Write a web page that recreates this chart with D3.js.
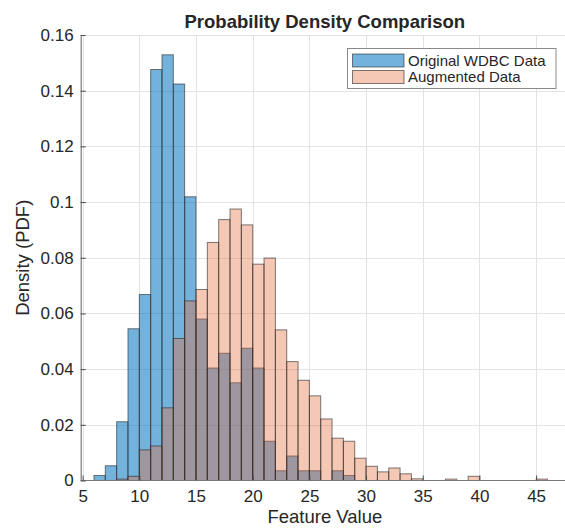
<!DOCTYPE html>
<html>
<head>
<meta charset="utf-8">
<script src="https://cdn.jsdelivr.net/npm/d3@7"></script>
<style>
  html, body { margin: 0; padding: 0; background: #ffffff; }
  svg { display: block; font-family: "Liberation Sans", Arial, Helvetica, sans-serif; }
</style>
</head>
<body>
<svg id="chart" width="565" height="528"></svg>
<script>
// ---- data ----
const binWidth = 1;
const originalBinStarts = [6,7,8,9,10,11,12,13,14,15,16,17,18,19,20,21,22,23,24,25,26,27,28];
const originalDensity = [0.0018,0.0053,0.0211,0.0545,0.0668,0.1476,0.1529,0.1424,0.1019,0.0580,0.0404,0.0457,0.0351,0.0475,0.0404,0.0141,0.0035,0.0088,0.0035,0.0035,0,0.0035,0.0018];
const augmentedBinStarts = [6,7,8,9,10,11,12,13,14,15,16,17,18,19,20,21,22,23,24,25,26,27,28,29,30,31,32,33,34,35,36,37,38,39,40,41,42,43,44,45];
const augmentedDensity = [0,0,0.0005,0.0015,0.0110,0.0124,0.0261,0.0510,0.0645,0.0686,0.0855,0.0937,0.0975,0.0918,0.0777,0.0799,0.0541,0.0427,0.0360,0.0304,0.0221,0.0152,0.0141,0.0080,0.0051,0.0031,0.0045,0.0024,0.0006,0,0,0.0005,0,0.0015,0,0,0,0,0,0.0005];
const xTicks = [5,10,15,20,25,30,35,40,45];
const yTicks = [0,0.02,0.04,0.06,0.08,0.1,0.12,0.14,0.16];
const seriesNames = ["Original WDBC Data", "Augmented Data"];
const titleText = "Probability Density Comparison";
const xLabelText = "Feature Value";
const yLabelText = "Density (PDF)";

// ---- layout ----
const svg = d3.select("#chart");
const pLeft = 80.7, pRight = 569, pTop = 35, pBottom = 480.5;
const x = d3.scaleLinear().domain([4.83, 47.9]).range([pLeft, pRight]);
const y = d3.scaleLinear().domain([0, 0.16]).range([pBottom, pTop]);
const textColor = "#262626";
const blue = { fill: "rgb(0,114,189)", op: 0.55 };
const orange = { fill: "rgb(229,108,60)", op: 0.38 };

// grid
const grid = svg.append("g");
grid.selectAll("line.vx").data(xTicks).enter().append("line")
  .attr("x1", d => Math.round(x(d)) + 0.5).attr("x2", d => Math.round(x(d)) + 0.5)
  .attr("y1", pTop).attr("y2", pBottom)
  .attr("stroke", "#e3e3e3").attr("stroke-width", 1);
grid.selectAll("line.hy").data(yTicks.filter(d => d > 0)).enter().append("line")
  .attr("x1", pLeft).attr("x2", 565)
  .attr("y1", d => Math.round(y(d)) + 0.5).attr("y2", d => Math.round(y(d)) + 0.5)
  .attr("stroke", "#e3e3e3").attr("stroke-width", 1);

// bars
function drawBars(starts, vals, style) {
  const data = starts.map((s, i) => ({ s, v: vals[i] })).filter(d => d.v > 0);
  svg.append("g").selectAll("rect").data(data).enter().append("rect")
    .attr("x", d => x(d.s))
    .attr("width", d => x(d.s + binWidth) - x(d.s))
    .attr("y", d => y(d.v))
    .attr("height", d => y(0) - y(d.v))
    .attr("fill", style.fill).attr("fill-opacity", style.op)
    .attr("stroke", "#262626").attr("stroke-opacity", 0.6).attr("stroke-width", 1);
}
drawBars(originalBinStarts, originalDensity, blue);
drawBars(augmentedBinStarts, augmentedDensity, orange);

// axes
const xAxis = d3.axisBottom(x).tickValues(xTicks).tickFormat(d3.format("d"))
  .tickSizeInner(-5).tickSizeOuter(0).tickPadding(9.5);
const gx = svg.append("g").attr("transform", `translate(0,${pBottom})`).call(xAxis);
const yAxis = d3.axisLeft(y).tickValues(yTicks).tickFormat(d => d === 0 ? "0" : String(+d.toFixed(2)))
  .tickSizeInner(-5).tickSizeOuter(0).tickPadding(7);
const gy = svg.append("g").attr("transform", `translate(${pLeft},0)`).call(yAxis);
[gx, gy].forEach(g => {
  g.select(".domain").attr("stroke", "#7a7a7a").attr("stroke-width", 1.2);
  g.selectAll(".tick line").attr("stroke", "#4a4a4a");
  g.selectAll(".tick text").attr("fill", textColor).style("font-size", "17px")
    .style("font-family", "'Liberation Sans', Arial, Helvetica, sans-serif");
});
gx.select(".domain").attr("d", `M${pLeft},0H565`);

// title and labels
svg.append("text").attr("x", (pLeft + pRight) / 2).attr("y", 28)
  .attr("text-anchor", "middle").attr("fill", textColor)
  .style("font-size", "18.5px").style("font-weight", "bold").text(titleText);
svg.append("text").attr("x", (pLeft + pRight) / 2).attr("y", 523)
  .attr("text-anchor", "middle").attr("fill", textColor)
  .style("font-size", "18.5px").text(xLabelText);
svg.append("text").attr("transform", `translate(29,${(pTop + pBottom) / 2}) rotate(-90)`)
  .attr("text-anchor", "middle").attr("fill", textColor)
  .style("font-size", "18.5px").text(yLabelText);

// legend
const lg = svg.append("g");
lg.append("rect").attr("x", 347.5).attr("y", 48.5).attr("width", 208.5).attr("height", 40)
  .attr("fill", "#ffffff").attr("stroke", "#8a8a8a").attr("stroke-width", 1);
const legendItems = [ { name: seriesNames[0], style: blue }, { name: seriesNames[1], style: orange } ];
legendItems.forEach((it, i) => {
  const cy = 60.5 + i * 16.5;
  lg.append("rect").attr("x", 352.5).attr("y", cy - 6.5).attr("width", 51.5).attr("height", 13)
    .attr("fill", it.style.fill).attr("fill-opacity", it.style.op)
    .attr("stroke", "#262626").attr("stroke-opacity", 0.6);
  lg.append("text").attr("x", 408).attr("y", cy + 5.3).attr("fill", textColor)
    .style("font-size", "15px").text(it.name);
});
</script>
</body>
</html>
